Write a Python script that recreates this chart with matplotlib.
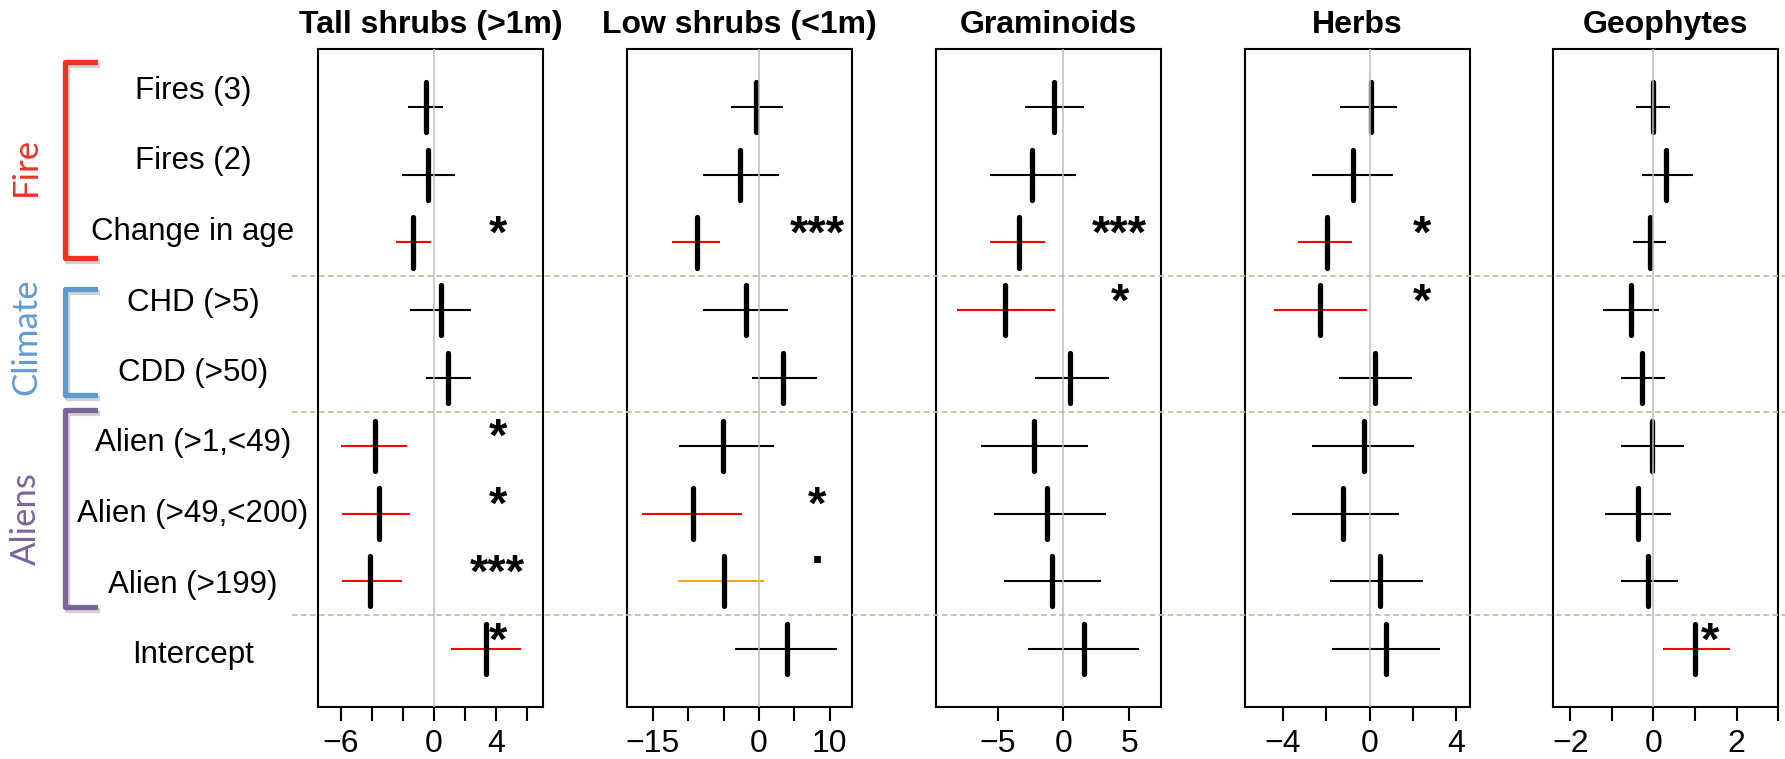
import matplotlib
matplotlib.use('Agg')
import matplotlib.pyplot as plt
import matplotlib.patheffects as pe
import matplotlib.transforms as mtransforms
from matplotlib.lines import Line2D
import numpy as np

plt.rcParams['font.family'] = ['Liberation Sans', 'DejaVu Sans']

##############################
# Data
##############################

rows = ["Fires (3)", "Fires (2)", "Change in age", "CHD (>5)", "CDD (>50)",
        "Alien (>1,<49)", "Alien (>49,<200)", "Alien (>199)", "Intercept"]

titles = ["Tall shrubs (>1m)", "Low shrubs (<1m)", "Graminoids", "Herbs", "Geophytes"]

tall_est = [-0.54, -0.39, -1.33, 0.47, 0.89, -3.80, -3.56, -4.10, 3.36]
tall_lo = [-1.70, -2.07, -2.44, -1.53, -0.54, -5.95, -5.90, -5.90, 1.06]
tall_hi = [0.59, 1.33, -0.22, 2.37, 2.37, -1.75, -1.56, -2.07, 5.58]
tall_sig = ['', '', '*', '', '', '*', '*', '***', '*']

low_est = [-0.43, -2.64, -8.80, -1.83, 3.35, -5.07, -9.39, -5.02, 3.94]
low_lo = [-3.99, -7.88, -12.36, -7.88, -0.97, -11.28, -16.51, -11.44, -3.40]
low_hi = [3.35, 2.81, -5.50, 4.10, 8.26, 2.10, -2.48, 0.65, 11.01]
low_sig = ['', '', '***', '', '', '', '*', '.', '']

gram_est = [-0.70, -2.38, -3.37, -4.42, 0.52, -2.21, -1.22, -0.87, 1.54]
gram_lo = [-2.91, -5.58, -5.58, -8.11, -2.18, -6.28, -5.29, -4.51, -2.67]
gram_hi = [1.54, 0.93, -1.37, -0.64, 3.49, 1.86, 3.23, 2.88, 5.76]
gram_sig = ['', '', '***', '*', '', '', '', '', '']

herb_est = [0.07, -0.77, -1.94, -2.28, 0.24, -0.27, -1.24, 0.46, 0.76]
herb_lo = [-1.34, -2.66, -3.28, -4.38, -1.42, -2.63, -3.55, -1.82, -1.72]
herb_hi = [1.25, 1.08, -0.81, -0.12, 1.97, 2.06, 1.36, 2.47, 3.24]
herb_sig = ['', '', '*', '*', '', '', '', '', '']

geo_est = [0.0, 0.30, -0.09, -0.53, -0.27, -0.04, -0.37, -0.13, 1.00]
geo_lo = [-0.41, -0.27, -0.48, -1.21, -0.77, -0.77, -1.16, -0.77, 0.22]
geo_hi = [0.41, 0.96, 0.30, 0.14, 0.28, 0.74, 0.42, 0.59, 1.83]
geo_sig = ['', '', '', '', '', '', '', '', '*']

# x position of the significance codes in each panel
star_x = [4.1, 8.2, 4.3, 2.4, 1.35]

xlims = [(-7.43, 7.03), (-18.67, 13.17), (-9.71, 7.41), (-5.75, 4.6), (-2.41, 2.99)]
xticks = [[-6, -4, -2, 0, 2, 4, 6], [-15, -10, -5, 0, 5, 10], [-5, 0, 5],
          [-4, -2, 0, 2, 4], [-2, -1, 0, 1, 2, 3]]
xticklabels = [['\u22126', '', '', '0', '', '4', ''],
               ['\u221215', '', '', '0', '', '10'],
               ['\u22125', '0', '5'],
               ['\u22124', '', '0', '', '4'],
               ['\u22122', '', '0', '', '2', '']]

groups = ["Fire", "Climate", "Aliens"]
group_colours = ['#ee3322', '#5f9bd3', '#7a6799']

panels = [(tall_est, tall_lo, tall_hi, tall_sig),
          (low_est, low_lo, low_hi, low_sig),
          (gram_est, gram_lo, gram_hi, gram_sig),
          (herb_est, herb_lo, herb_hi, herb_sig),
          (geo_est, geo_lo, geo_hi, geo_sig)]

def ci_colour(s):
    if s == '.':
        return '#ffa500'
    if s.startswith('*'):
        return '#ff0000'
    return 'black'

#####################
# Figure and panels
#####################

W, H = 1785, 759
fig = plt.figure(figsize=(W / 100, H / 100), dpi=100)

y = np.arange(len(rows))
axes = []
for k, (est, lo, hi, sig) in enumerate(panels):
    ax = fig.add_axes([(318.4 + k * 308.7) / W, 1 - 707 / H, 225 / W, 658 / H])
    axes.append(ax)

    cols = [ci_colour(s) for s in sig]
    ax.hlines(y, lo, hi, colors=cols, lw=1.5, zorder=2)
    ax.vlines(est, y - 0.37, y + 0.37, colors='black', lw=3.8, zorder=3,
              capstyle='round')
    ax.axvline(0, color='#bdbdbd', lw=1.1, zorder=4)

    for i, s in enumerate(sig):
        if s == '.':
            ax.text(star_x[k], i - 0.27, '.', ha='center', va='baseline',
                    fontsize=34, fontweight='bold')
        elif s:
            ax.text(star_x[k], i + 0.08, s, ha='center', va='baseline',
                    fontsize=34, fontweight='bold')

    ax.set_xlim(xlims[k])
    ax.set_ylim(len(rows) - 1 + 0.856, -0.856)
    ax.set_xticks(xticks[k])
    ax.set_xticklabels(xticklabels[k])
    ax.set_yticks([])
    ax.tick_params(axis='x', length=10, width=1.5, labelsize=23, pad=6)
    for sp in ax.spines.values():
        sp.set_linewidth(1.5)

    ax.text(0.5, 1.036, titles[k], transform=ax.transAxes, ha='center',
            va='center', fontsize=23, fontweight='bold')

# dashed separators between the groups, running across all panels
trans = mtransforms.blended_transform_factory(fig.transFigure, axes[0].transData)
for ysep in [2.5, 4.5, 7.5]:
    ln = Line2D([292 / W, 1.0], [ysep, ysep], transform=trans, color='#c4bf9c',
                lw=1.3, dashes=(3, 2), zorder=5)
    fig.add_artist(ln)

# row labels on the left
for i, lab in enumerate(rows):
    fig.text(193 / W, 1 - (91 + i * 70.5) / H, lab, ha='center', va='center',
             fontsize=22.5)

# group brackets with a soft shadow
bracket_spans = [(62, 258), (289, 395), (410, 607)]
label_y = [166, 337, 519]
shadow = [pe.SimpleLineShadow(offset=(1.5, -2), shadow_color='gray', alpha=0.35),
          pe.Normal()]
for g, (top, bot), ly, c in zip(groups, bracket_spans, label_y, group_colours):
    xs = [95 / W, 65 / W, 65 / W, 95 / W]
    ys = [1 - top / H, 1 - top / H, 1 - bot / H, 1 - bot / H]
    ln = Line2D(xs, ys, transform=fig.transFigure, color=c, lw=3.8,
                solid_joinstyle='round', path_effects=shadow)
    fig.add_artist(ln)
    fig.text(26 / W, 1 - ly / H, g, rotation=90, ha='center', va='center',
             fontsize=25, color=c, family=['Lato', 'DejaVu Sans'])

fig.savefig('out.png', dpi=100)
